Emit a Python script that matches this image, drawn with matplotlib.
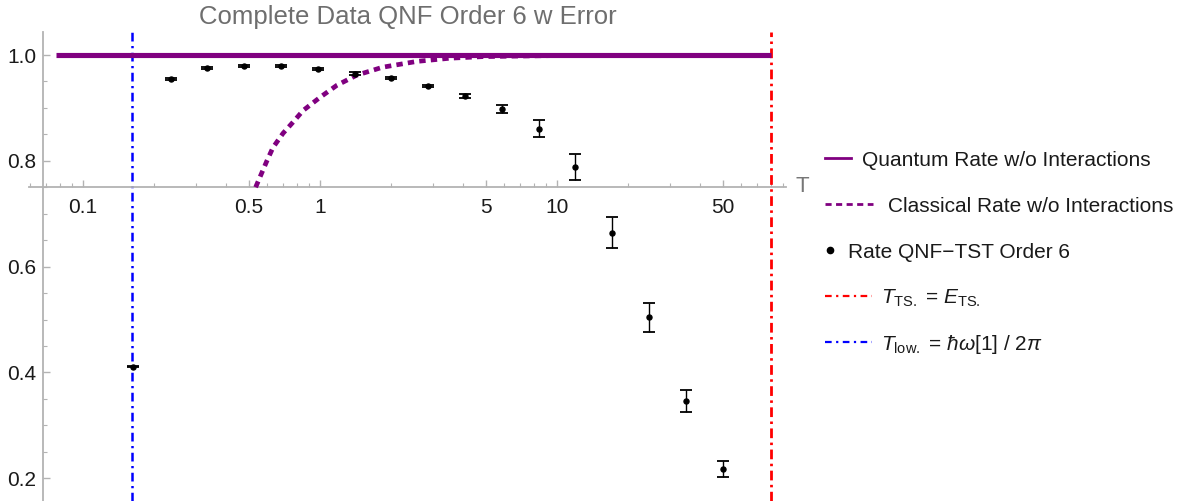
import matplotlib
matplotlib.use("Agg")
import matplotlib.pyplot as plt
from matplotlib.lines import Line2D
from matplotlib.transforms import blended_transform_factory
from matplotlib.ticker import FixedLocator, NullFormatter, FixedFormatter

plt.rcParams['font.family'] = ['Liberation Sans', 'DejaVu Sans']
plt.rcParams['mathtext.fontset'] = 'custom'
plt.rcParams['mathtext.rm'] = 'Liberation Sans'
plt.rcParams['mathtext.it'] = 'Liberation Sans:italic'
plt.rcParams['mathtext.bf'] = 'Liberation Sans:bold'

# QNF-TST order 6 rate (normalised) with statistical error
temps = [0.163, 0.234, 0.334, 0.478, 0.684, 0.978, 1.40, 2.00, 2.86, 4.09,
         5.85, 8.37, 11.95, 17.1, 24.4, 34.9, 50.0]
rates = [0.411, 0.954, 0.975, 0.979, 0.979, 0.974, 0.965, 0.956, 0.941, 0.922,
         0.898, 0.861, 0.788, 0.664, 0.504, 0.346, 0.217]
errors = [0.001, 0.002, 0.002, 0.002, 0.002, 0.002, 0.002, 0.002, 0.002, 0.004,
          0.008, 0.016, 0.025, 0.029, 0.028, 0.0215, 0.015]

# classical rate without interactions (merges with the quantum line above T ~ 10)
classical_T = [0.535, 0.597, 0.633, 0.698, 0.769, 0.848, 1.0, 1.18, 1.43, 1.84,
               2.57, 3.54, 4.87, 6.78, 10.0]
classical_rate = [0.750, 0.800, 0.825, 0.852, 0.873, 0.895, 0.920, 0.943, 0.962,
                  0.977, 0.988, 0.994, 0.997, 0.998, 0.999]

# quantum rate without interactions
quantum_T = [0.0769, 80.0]
quantum_rate = [1.0, 1.0]

T_ts = 80.0     # T_TS. = E_TS.
T_low = 0.161   # T_low. = hbar*omega[1] / 2pi

x_major = [0.1, 0.5, 1, 5, 10, 50]
x_major_labels = ["0.1", "0.5", "1", "5", "10", "50"]
x_minor = [0.06, 0.07, 0.08, 0.09, 0.2, 0.3, 0.4, 0.6, 0.7, 0.8, 0.9,
           2, 3, 4, 6, 7, 8, 9, 20, 30, 40, 60, 70, 80, 90]
y_major = [0.2, 0.4, 0.6, 0.8, 1.0]
y_major_labels = ["0.2", "0.4", "0.6", "0.8", "1.0"]
y_minor = [0.25, 0.3, 0.35, 0.45, 0.5, 0.55, 0.65, 0.7, 0.75, 0.85, 0.9, 0.95, 1.05]

purple = '#800080'
axis_gray = '#b3b3b3'
FS = 15

W, H = 1188, 501
fig = plt.figure(figsize=(W / 100, H / 100), dpi=100)
ax = fig.add_axes([28.7 / W, 0, 757.3 / W, 469 / H])
ax.set_xscale('log')
ax.set_xlim(0.059, 92.5)
ax.set_ylim(0.157, 1.0435)

ax.plot(classical_T, classical_rate, color=purple, lw=3.4,
        linestyle=(0, (1.35, 1.1)), zorder=3, dash_capstyle='butt')
ax.plot(quantum_T, quantum_rate, color=purple, lw=3.7, zorder=4,
        solid_capstyle='butt')
ax.axvline(T_ts, color='#ff0000', lw=2.0, linestyle=(0, (3.5, 1.6, 0.9, 1.6)), zorder=2)
ax.axvline(T_low, color='#0000ff', lw=1.8, linestyle=(0, (3.5, 1.8, 0.9, 1.8)), zorder=2)
ax.errorbar(temps, rates, yerr=errors, fmt='o', color='black', ms=3.6,
            elinewidth=1.0, capsize=4.5, capthick=1.3, zorder=5)

# Axes drawn through an origin, ticks pointing inward
for s in ('top', 'right'):
    ax.spines[s].set_visible(False)
ax.spines['left'].set_position(('data', 0.0678))
ax.spines['bottom'].set_position(('data', 0.75))
for s in ('left', 'bottom'):
    ax.spines[s].set_color(axis_gray)
    ax.spines[s].set_linewidth(1.3)

ax.xaxis.set_major_locator(FixedLocator(x_major))
ax.xaxis.set_major_formatter(FixedFormatter(x_major_labels))
ax.xaxis.set_minor_locator(FixedLocator(x_minor))
ax.xaxis.set_minor_formatter(NullFormatter())
ax.yaxis.set_major_locator(FixedLocator(y_major))
ax.yaxis.set_major_formatter(FixedFormatter(y_major_labels))
ax.yaxis.set_minor_locator(FixedLocator(y_minor))

ax.tick_params(which='major', direction='in', length=5, width=1.0, color=axis_gray,
               labelsize=FS, labelcolor='#1a1a1a')
ax.tick_params(which='minor', direction='in', length=3, width=0.8, color=axis_gray)
ax.tick_params(axis='x', which='major', pad=8)
ax.tick_params(axis='y', which='major', pad=5)

# axis label placed at the end of the horizontal axis
ax.text(1.012, 0.752, 'T', transform=blended_transform_factory(ax.transAxes, ax.transData),
        ha='left', va='center', fontsize=FS + 1, color='#777777')

ax.set_title('Complete Data QNF Order 6 w Error', fontsize=18.5, color='#6e6e6e', pad=6)

# Legend rows, each with its own handle length
rows = [
    (Line2D([], [], color=purple, lw=2.0), 'Quantum Rate w/o Interactions', 160, 1.25, 0.55),
    (Line2D([], [], color=purple, lw=2.0, linestyle=(0, (2.2, 1.6))),
     'Classical Rate w/o Interactions', 206, 2.3, 0.72),
    (Line2D([], [], color='black', marker='o', ms=4.5, linestyle='none'),
     'Rate QNF\u2212TST Order 6', 252, 0.5, 0.6),
    (Line2D([], [], color='#ff0000', lw=1.6, linestyle=(0, (3, 2, 1, 2))),
     r'$T_{\mathrm{TS.}}$ = $E_{\mathrm{TS.}}$', 298, 2.26, 0.45),
    (Line2D([], [], color='#0000ff', lw=1.6, linestyle=(0, (3, 2, 1, 2))),
     r'$T_{\mathrm{low.}}$ = $\hbar\omega$[1] / 2$\pi$', 344, 2.26, 0.45),
]
for handle, label, ypix, hl, pad in rows:
    fig.legend(handles=[handle], labels=[label], loc='center left',
               bbox_to_anchor=(825 / W, 1 - ypix / H), frameon=False,
               fontsize=FS, handlelength=hl, handletextpad=pad,
               borderpad=0, borderaxespad=0, labelcolor='#1a1a1a')

fig.savefig('out.png', dpi=100)
